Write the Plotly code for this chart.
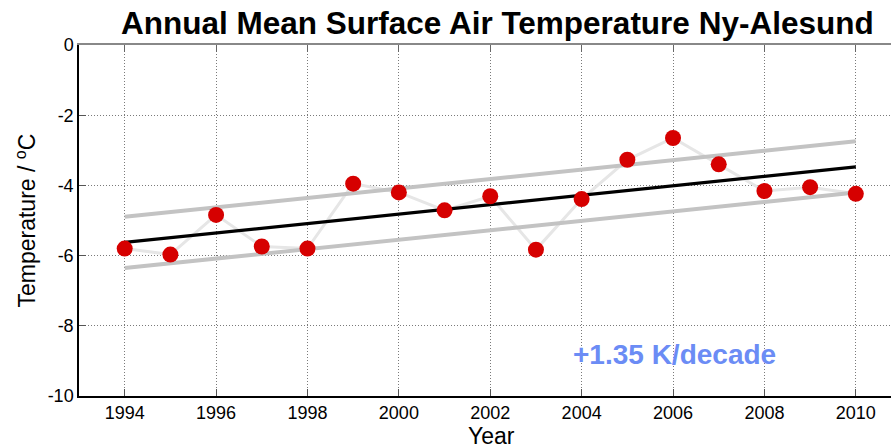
import numpy as np
import plotly.graph_objects as go

years = list(range(1994, 2011))
temps = [-5.80, -5.97, -4.84, -5.74, -5.80, -3.95, -4.20, -4.71, -4.31,
         -5.83, -4.39, -3.27, -2.65, -3.40, -4.16, -4.05, -4.24]
band_offset = 0.73
x_ticks = list(range(1994, 2011, 2))
y_ticks = list(range(-10, 1, 2))
y_tick_labels = [str(v) for v in y_ticks]
title_text = "Annual Mean Surface Air Temperature Ny-Alesund"
trend_label = "+1.35 K/decade"

FONT = "Liberation Sans, Arial, sans-serif"

x = np.array(years, dtype=float)
y = np.array(temps)
slope, intercept = np.polyfit(x, y, 1)
xe = np.array([years[0], years[-1]], dtype=float)
trend = slope * xe + intercept

fig = go.Figure()
fig.add_trace(go.Scatter(x=years, y=temps, mode="lines",
                         line=dict(color="#e6e6e6", width=3), hoverinfo="skip"))
fig.add_trace(go.Scatter(x=xe, y=trend + band_offset, mode="lines",
                         line=dict(color="#c3c3c3", width=4)))
fig.add_trace(go.Scatter(x=xe, y=trend - band_offset, mode="lines",
                         line=dict(color="#c3c3c3", width=4)))
fig.add_trace(go.Scatter(x=xe, y=trend, mode="lines",
                         line=dict(color="black", width=3.2)))
fig.add_trace(go.Scatter(x=years, y=temps, mode="markers",
                         marker=dict(color="#d60000", size=16, line=dict(width=0))))
# helper for the top axis frame
fig.add_trace(go.Scatter(x=years, y=temps, xaxis="x2", mode="markers",
                         marker=dict(opacity=0), hoverinfo="skip"))

axis_common = dict(showgrid=True, gridcolor="#7a7a7a", griddash="1px,2px", gridwidth=1,
                   zeroline=False, ticks="inside", ticklen=7, tickcolor="#555",
                   tickfont=dict(family=FONT, size=18, color="black"))

fig.update_layout(
    width=891, height=448,
    margin=dict(l=79, r=0, t=45, b=52),
    paper_bgcolor="white", plot_bgcolor="white",
    showlegend=False,
    font=dict(family=FONT, color="black"),
    xaxis=dict(range=[1993, 2010.77], tickvals=x_ticks,
               showline=True, linecolor="black", linewidth=1.5, **axis_common),
    xaxis2=dict(range=[1993, 2010.77], tickvals=x_ticks, overlaying="x", side="top",
                anchor="y", showline=True, linecolor="#888", linewidth=2,
                showgrid=False, zeroline=False, ticks="inside", ticklen=7,
                tickcolor="#666", showticklabels=False),
    yaxis=dict(range=[-10, 0], tickvals=y_ticks, ticktext=y_tick_labels,
               showline=True, linecolor="black", linewidth=1.5, **axis_common),
    annotations=[
        dict(text="<b>" + title_text + "</b>", xref="paper", yref="paper",
             x=(497 - 79) / 812, y=1 + 22 / 351, xanchor="center", yanchor="middle",
             showarrow=False, font=dict(family=FONT, size=31.5, color="black")),
        dict(text="Year", xref="paper", yref="paper",
             x=(492 - 79) / 812, y=-40 / 351, xanchor="center", yanchor="middle",
             showarrow=False, font=dict(family=FONT, size=23, color="black")),
        dict(text="Temperature / <sup>o</sup>C", xref="paper", yref="paper",
             x=-(79 - 25) / 812, y=0.5, xanchor="center", yanchor="middle",
             textangle=-90, showarrow=False,
             font=dict(family=FONT, size=23, color="black")),
        dict(text="<b>" + trend_label + "</b>", xref="x", yref="y",
             x=2006.03, y=-8.83, xanchor="center", yanchor="middle",
             showarrow=False, font=dict(family=FONT, size=28, color="#6b8cf5")),
    ],
)

fig.write_html("out.html", config={"displayModeBar": False},
               post_script="document.body.style.margin='0';document.body.style.overflow='hidden';")
